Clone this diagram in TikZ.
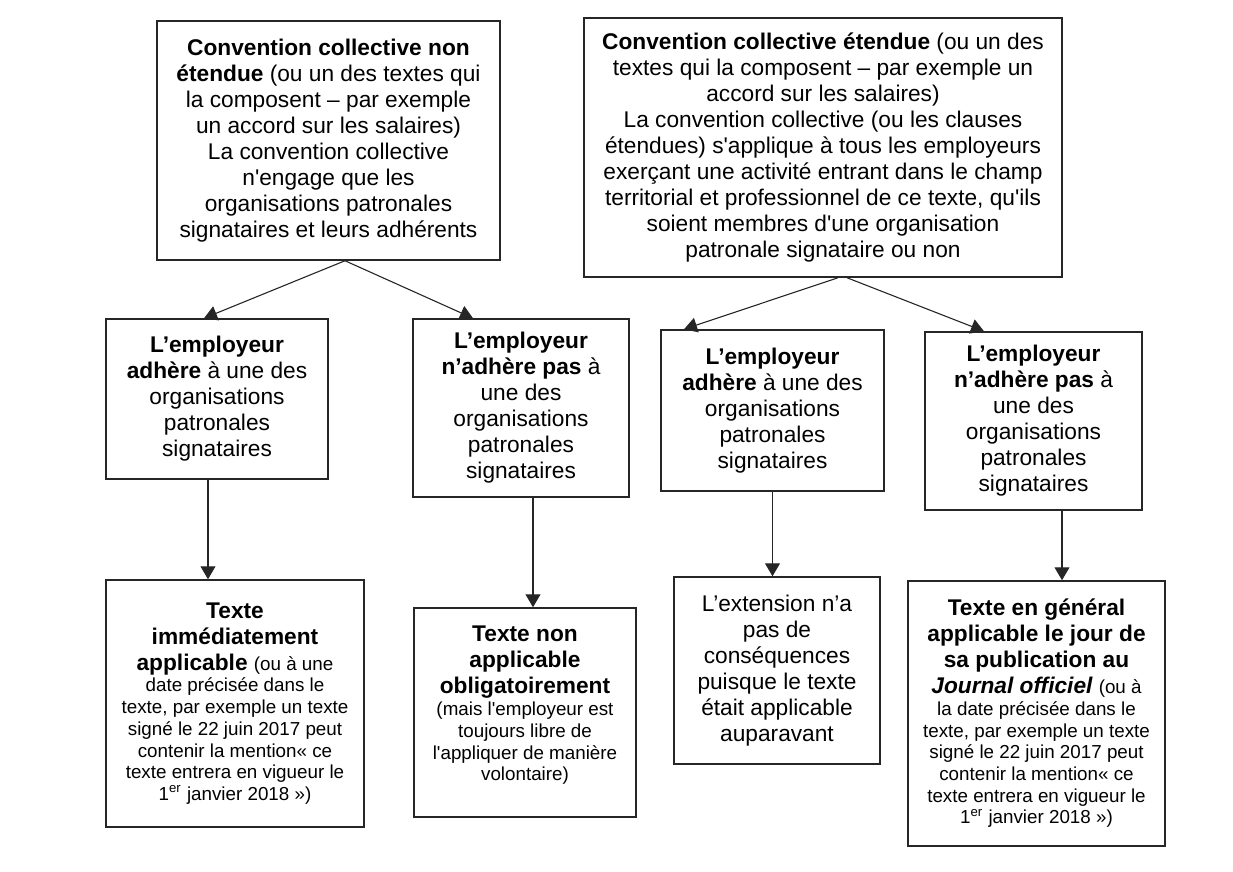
\documentclass[tikz,border=0pt]{standalone}
\usepackage{fontspec}
\setmainfont{Liberation Sans}[Ligatures=TeXOff]
\usepackage{tikz}
\usetikzlibrary{arrows.meta,calc}
\newcommand\petit{\fontsize{9.4}{10.85}\selectfont}

\tikzset{
  boite/.style={draw=black!85, line width=.75pt, inner sep=1pt, align=flush center,
    font=\fontsize{11.35}{13}\selectfont},
  fleche/.style={->, draw=black!85, line width=.55pt},
}

\begin{document}
\begin{tikzpicture}[x=.5pt, y=-.5pt, >={Triangle[width=7.5pt,length=6.5pt]}]
        \useasboundingbox (0,0) rectangle (1233,872);

        % Conventions
        \node[boite, text width=169.5pt, minimum height=119.5pt] (cnon) at (328.5,140.5)
        {{\bfseries Convention collective non\\ étendue} (ou un des textes qui\\
         la composent – par exemple\\ un accord sur les salaires)\\
         La convention collective\\ n'engage que les\\ organisations patronales\\
         signataires et leurs adhérents};
        \node[boite, text width=237pt, minimum height=129.5pt] (cext) at (823,147.5)
        {{\bfseries Convention collective étendue} (ou un des\\
         textes qui la composent – par exemple un\\ accord sur les salaires)\\
         La convention collective (ou les clauses\\
         étendues) s'applique à tous les employeurs\\
         exerçant une activité entrant dans le champ\\
         territorial et professionnel de ce texte, qu'ils\\
         soient membres d'une organisation\\ patronale signataire ou non};

        % Employeurs
        \node[boite, text width=109pt, minimum height=80pt] (emp1) at (217,399)
        {{\bfseries L’employeur\\ adhère} à une des\\ organisations\\ patronales\\ signataires};
        \node[boite, text width=106pt, minimum height=89pt] (emp2) at (521,408)
        {{\bfseries L’employeur\\ n’adhère pas} à\\ une des\\ organisations\\ patronales\\ signataires};
        \node[boite, text width=109.5pt, minimum height=80.5pt] (emp3) at (772.5,410.5)
        {{\bfseries L’employeur\\ adhère} à une des\\ organisations\\ patronales\\ signataires};
        \node[boite, text width=106.5pt, minimum height=89pt] (emp4) at (1033.5,421)
        {{\bfseries L’employeur\\ n’adhère pas} à\\ une des\\ organisations\\ patronales\\ signataires};

        % Effets
        \node[boite, text width=127pt, minimum height=123.5pt] (res1) at (235,703.5)
        {{\bfseries Texte\\ immédiatement\\ applicable} {\petit (ou à une}\\
         \petit date précisée dans le\\ texte, par exemple un texte\\
         signé le 22 juin 2017 peut\\ contenir la mention« ce\\
         texte entrera en vigueur le\\ 1\textsuperscript{er} janvier 2018 »)\par};
        \node[boite, text width=109pt, minimum height=104.5pt] (res2) at (525,712.5)
        {{\bfseries Texte non\\ applicable\\ obligatoirement}\\
         \petit (mais l'employeur est\\ toujours libre de\\ l'appliquer de manière\\ volontaire)\par
         \vspace{7pt}\hrule height 0pt};
        \node[boite, text width=101pt, minimum height=93.5pt] (res3) at (777,670.5)
        {L’extension n’a\\ pas de\\ conséquences\\ puisque le texte\\ était applicable\\ auparavant};
        \node[boite, text width=126.5pt, minimum height=132.5pt] (res4) at (1036.5,713.5)
        {{\bfseries Texte en général\\ applicable le jour de\\ sa publication au\\
         \itshape Journal officiel} {\petit (ou à}\\
         \petit la date précisée dans le\\ texte, par exemple un texte\\
         signé le 22 juin 2017 peut\\ contenir la mention« ce\\
         texte entrera en vigueur le\\ 1\textsuperscript{er} janvier 2018 »)\par};

        % Arrows
        \coordinate (cnonout) at ($(cnon.south)+(16.5,0)$);
        \draw[fleche] (cnonout) -- ($(emp1.north)+(-13,0)$);
        \draw[fleche] (cnonout) -- ($(emp2.north)+(-48,0)$);
        \draw[fleche] ($(cext.south)+(15,0)$) -- ($(emp3.north)+(-88.5,0)$);
        \draw[fleche] ($(cext.south)+(24,0)$) -- ($(emp4.north)+(-49.5,0)$);

        \foreach \i/\dx in {1/-9,2/12,3/0,4/28.5}
        {
        \coordinate (down\i) at ($(emp\i.south)+(\dx,0)$);
        \draw[fleche] (down\i) -- (down\i |- res\i.north);
        }

\end{tikzpicture}
\end{document}
